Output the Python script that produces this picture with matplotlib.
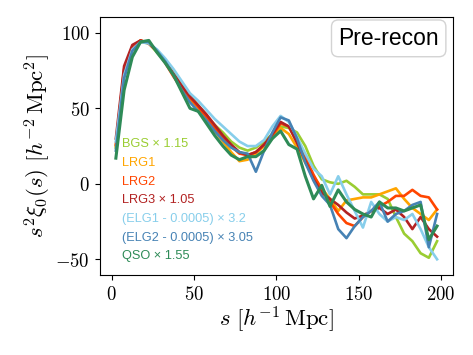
import numpy as np
import matplotlib
matplotlib.use("Agg")
import matplotlib.pyplot as plt
from matplotlib.ticker import FuncFormatter

plt.rcParams['mathtext.fontset'] = 'cm'

s = [2.5, 7.5, 12.5, 17.5, 22.5, 27.5, 32.5, 37.5, 42.5, 47.5,
     52.5, 57.5, 62.5, 67.5, 72.5, 77.5, 82.5, 87.5, 92.5, 97.5,
     102.5, 107.5, 112.5, 117.5, 122.5, 127.5, 132.5, 137.5, 142.5, 147.5,
     152.5, 157.5, 162.5, 167.5, 172.5, 177.5, 182.5, 187.5, 192.5, 197.5]

bgs = [24, 72, 89, 94, 93, 87, 81, 74, 66, 58,
       52, 45, 39, 34, 28, 24, 22, 24, 28, 33,
       38, 37, 34, 25, 12, 3, 1, 0, 2, -2,
       -7, -7, -7, -10, -22, -33, -38, -46, -49, -38]
lrg1 = [25, 74, 90, 95, 93, 88, 81, 72, 63, 55,
        49, 42, 35, 28, 21, 15, 16, 20, 25, 30,
        37, 33, 24, 14, 5, -3, -10, -18, -11, -10,
        -9, -9, -7, -5, -3, -10, -16, -20, -24, -17]
lrg2 = [26, 76, 91, 95, 93, 88, 80, 71, 63, 57,
        51, 44, 37, 30, 25, 20, 19, 21, 26, 32,
        40, 38, 28, 18, 6, -4, -12, -20, -26, -28,
        -22, -18, -15, -12, -8, -8, -4, -8, -9, -17]
lrg3 = [30, 78, 92, 95, 93, 88, 81, 73, 65, 58,
        52, 46, 39, 32, 26, 21, 19, 21, 26, 33,
        41, 38, 27, 15, 3, -6, -10, -14, -19, -23,
        -21, -18, -16, -20, -17, -22, -30, -22, -30, -35]
elg1 = [28, 72, 89, 94, 93, 89, 83, 76, 68, 60,
        55, 49, 43, 38, 33, 28, 25, 25, 29, 38,
        45, 41, 31, 20, 10, 5, -7, 5, -7, -18,
        -29, -12, -20, -25, -22, -24, -20, -30, -42, -50]
elg2 = [22, 70, 88, 94, 94, 88, 81, 72, 62, 54,
        48, 42, 35, 29, 24, 21, 20, 8, 22, 34,
        44, 42, 30, 14, 2, -8, -14, -30, -36, -28,
        -22, -18, -12, -25, -20, -18, -14, -12, -42, -20]
qso = [17, 62, 84, 94, 95, 87, 80, 72, 61, 50,
       48, 40, 32, 25, 19, 16, 18, 18, 22, 30,
       35, 26, 23, 5, -10, -1, -15, -4, -12, -17,
       -20, -22, -12, -16, -16, -18, -16, -14, -37, -28]

labels = ['BGS × 1.15', 'LRG1', 'LRG2', 'LRG3 × 1.05',
          '(ELG1 - 0.0005) × 3.2', '(ELG2 - 0.0005) × 3.05', 'QSO × 1.55']
colors = ['yellowgreen', 'orange', 'orangered', 'firebrick',
          'skyblue', 'steelblue', 'seagreen']
series = [bgs, lrg1, lrg2, lrg3, elg1, elg2, qso]
xticks = [0, 50, 100, 150, 200]
yticks = [-50, 0, 50, 100]

fig = plt.figure(figsize=(4.73, 3.55), dpi=100)
ax = fig.add_axes([0.211, 0.225, 0.747, 0.727])
for y, c, lab in zip(series, colors, labels):
    lw = 2.2 if c == 'seagreen' else 1.9
    ax.plot(s, y, color=c, lw=lw, label=lab)

ax.set_ylim(-60.5, 110.5)
ax.set_xticks(xticks)
ax.set_yticks(yticks)
fmt = FuncFormatter(lambda v, p: r'$%d$' % v)
ax.xaxis.set_major_formatter(fmt)
ax.yaxis.set_major_formatter(fmt)
ax.tick_params(labelsize=13.5)
ax.set_xlabel(r'$s\ [h^{-1}\,\mathrm{Mpc}]$', fontsize=16.5, labelpad=1)
ax.set_ylabel(r'$s^2\xi_0(s)\ [h^{-2}\,\mathrm{Mpc}^2]$', fontsize=16.5, labelpad=2)

leg = ax.legend(loc='lower left', handlelength=0, handletextpad=0,
                frameon=False, labelcolor='linecolor',
                prop={'family': 'Liberation Sans', 'size': 9.2},
                labelspacing=0.52, borderaxespad=0.0,
                bbox_to_anchor=(0.047, 0.03))
for h in leg.legend_handles:
    h.set_visible(False)

ax.text(0.96, 0.962, 'Pre-recon', transform=ax.transAxes, ha='right', va='top',
        fontsize=16.5, family='Liberation Sans',
        bbox=dict(boxstyle='round,pad=0.3', fc='white', ec='#d3d3d3'))

fig.savefig('out.png', dpi=100)
